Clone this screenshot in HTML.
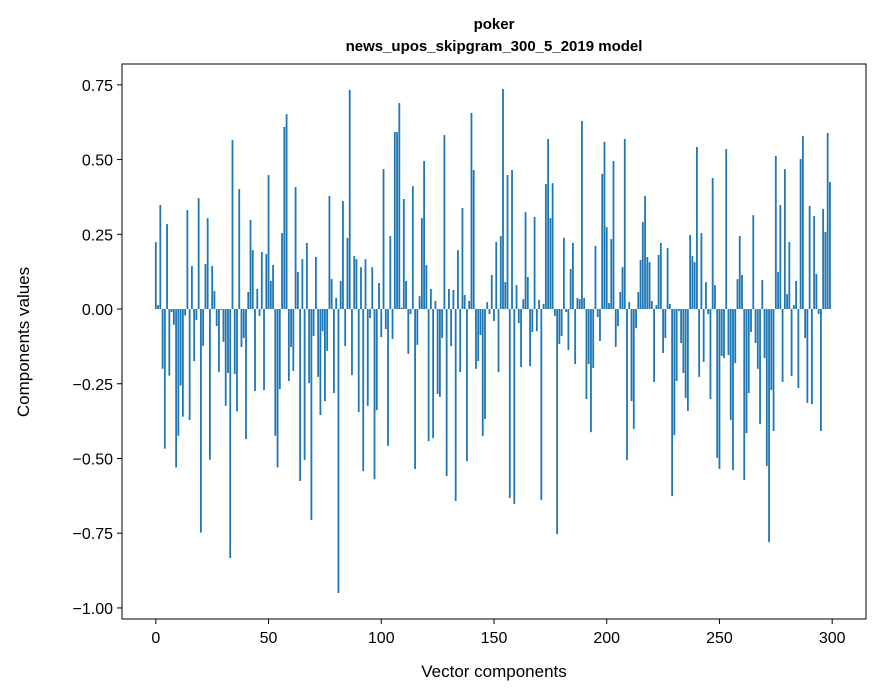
<!DOCTYPE html>
<html><head><meta charset="utf-8"><style>
html,body{margin:0;padding:0;background:#fff;}
svg{display:block;font-family:"Liberation Sans",Arial,sans-serif;}
</style></head><body>
<svg id="chart" width="880" height="696" viewBox="0 0 880 696">
<rect x="0" y="0" width="880" height="696" fill="#fff"/>
<text x="494" y="29" text-anchor="middle" font-size="15" font-weight="bold">poker</text>
<text x="494" y="51" text-anchor="middle" font-size="15" font-weight="bold">news_upos_skipgram_300_5_2019 model</text>
<g id="bars"></g>
<g id="xticks"></g>
<g id="yticks"></g>
<rect x="122" y="64" width="744" height="555" fill="none" stroke="#000" stroke-width="1"/>
<text x="494" y="677" text-anchor="middle" font-size="17">Vector components</text>
<text x="0" y="0" transform="translate(29,342) rotate(-90)" text-anchor="middle" font-size="17">Components values</text>
</svg>
<script>
const values = [
0.224,0.013,0.348,-0.20,-0.467,0.284,-0.223,-0.01,-0.053,-0.53,
-0.424,-0.256,-0.36,-0.022,0.331,-0.371,0.144,-0.174,-0.037,0.371,
-0.748,-0.123,0.151,0.304,-0.504,0.144,0.06,-0.057,-0.211,-0.003,
-0.11,-0.324,-0.214,-0.833,0.565,-0.217,-0.342,0.401,-0.127,-0.097,
-0.435,0.057,0.298,0.197,-0.274,0.067,-0.023,0.191,-0.271,0.184,
0.448,0.094,0.147,-0.424,-0.53,-0.268,0.254,0.609,0.652,-0.241,
-0.127,-0.207,0.408,0.124,-0.575,0.167,-0.505,0.221,-0.248,-0.706,
-0.09,0.174,-0.227,-0.355,-0.074,-0.308,-0.14,0.378,0.10,-0.281,
0.037,-0.95,0.094,0.361,-0.124,0.238,0.733,-0.221,0.177,0.167,
-0.345,0.14,-0.542,0.167,-0.324,-0.03,0.14,-0.569,-0.338,0.087,
-0.094,0.468,-0.067,-0.458,0.244,-0.10,0.592,0.592,0.689,0.005,
0.368,0.094,-0.15,-0.017,0.411,-0.535,-0.12,0.043,0.304,0.495,
0.147,-0.442,0.067,-0.432,0.027,-0.284,-0.294,-0.097,0.582,-0.559,
0.067,-0.124,0.064,-0.642,0.197,-0.211,0.338,0.047,-0.509,0.027,
0.656,0.465,-0.20,-0.174,-0.087,-0.425,-0.368,0.023,-0.017,0.114,
-0.04,0.224,-0.211,0.244,0.736,0.09,0.448,-0.632,0.465,-0.652,
0.08,-0.047,-0.194,0.033,0.324,0.107,-0.191,-0.077,0.308,-0.074,
0.03,-0.639,0.017,0.418,0.569,0.304,0.421,-0.023,-0.753,-0.117,
-0.09,0.238,-0.01,-0.137,0.134,0.221,-0.184,0.037,0.033,0.629,
0.037,-0.301,-0.184,-0.412,-0.197,0.211,-0.027,-0.107,0.452,0.559,
0.274,0.02,0.234,0.495,-0.127,-0.057,0.057,0.14,0.569,-0.505,
0.023,-0.308,-0.401,-0.064,0.057,0.164,0.291,0.378,0.174,0.157,
0.027,-0.244,0.013,0.181,0.221,-0.147,-0.097,0.204,0.017,-0.626,
-0.422,-0.241,-0.007,-0.114,-0.214,-0.298,-0.341,0.248,0.177,0.157,
0.542,-0.227,0.254,-0.177,0.09,-0.017,-0.301,0.438,0.08,-0.498,
-0.535,-0.157,-0.164,0.535,-0.154,-0.371,-0.539,-0.181,0.10,0.244,
0.114,-0.572,-0.415,-0.281,-0.077,0.314,-0.114,-0.2,-0.385,0.097,
-0.164,-0.525,-0.78,-0.271,-0.408,0.512,0.124,0.348,-0.244,0.468,
0.05,0.224,-0.224,0.013,0.094,-0.264,0.502,0.579,-0.097,-0.314,
0.345,-0.318,0.311,0.117,-0.017,-0.408,0.335,0.258,0.589,0.425
];
const xTickValues = [0,50,100,150,200,250,300];
const yTickValues = [-1.00,-0.75,-0.50,-0.25,0.00,0.25,0.50,0.75];
const yTickLabels = ["\u22121.00","\u22120.75","\u22120.50","\u22120.25","0.00","0.25","0.50","0.75"];

const NS = "http://www.w3.org/2000/svg";
const plot = {left:122,right:866,top:64,bottom:619};
const xMin=-15, xMax=315, yMin=-1.037, yMax=0.8197;
function xScale(v){return plot.left+(v-xMin)/(xMax-xMin)*(plot.right-plot.left);}
function yScale(v){return plot.bottom-(v-yMin)/(yMax-yMin)*(plot.bottom-plot.top);}
function mk(tag,attrs){const e=document.createElementNS(NS,tag);for(const k in attrs)e.setAttribute(k,attrs[k]);return e;}

const barsG=document.getElementById('bars');
const bw=(xScale(0.8)-xScale(0));
values.forEach((v,i)=>{
  const x=xScale(i)-bw/2;
  const y0=yScale(0), y1=yScale(v);
  const r=mk('rect',{x:x,y:Math.min(y0,y1),width:bw,height:Math.max(Math.abs(y1-y0),0.3),fill:'#1f77b4'});
  
  
  barsG.appendChild(r);
});

const xg=document.getElementById('xticks');
xTickValues.forEach(t=>{
  const x=xScale(t);
  const l=mk('line',{x1:x,x2:x,y1:plot.bottom,y2:plot.bottom+5,stroke:'#000','stroke-width':1});
  
  
  xg.appendChild(l);
  const tx=mk('text',{x:x,y:plot.bottom+24,'text-anchor':'middle','font-size':16});
  
  
  tx.textContent=String(t);
  xg.appendChild(tx);
});
const yg=document.getElementById('yticks');
yTickValues.forEach((t,i)=>{
  const y=yScale(t);
  const l=mk('line',{x1:plot.left-5,x2:plot.left,y1:y,y2:y,stroke:'#000','stroke-width':1});
  
  
  yg.appendChild(l);
  const tx=mk('text',{x:plot.left-9,y:y+6,'text-anchor':'end','font-size':16});
  
  
  tx.textContent=yTickLabels[i];
  yg.appendChild(tx);
});
</script>
</body></html>
